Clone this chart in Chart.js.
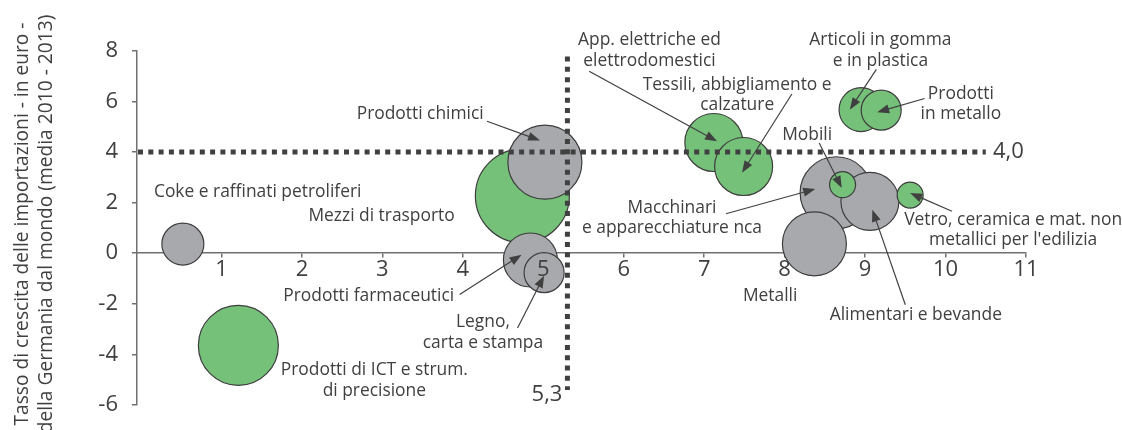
<!DOCTYPE html>
<html>
<head>
<meta charset="utf-8">
<script src="https://cdn.jsdelivr.net/npm/chart.js@4.4.0/dist/chart.umd.min.js"></script>
<style>
  html, body { margin: 0; padding: 0; background: #fff; overflow: hidden; }
  canvas { display: block; }
</style>
</head>
<body>
<canvas id="grafico" width="1122" height="430"></canvas>
<script>
const categorie = [
  'Coke e raffinati petroliferi', 'Prodotti di ICT e strum. di precisione', 'Mezzi di trasporto',
  'Prodotti chimici', 'Prodotti farmaceutici', 'Legno, carta e stampa',
  'App. elettriche ed elettrodomestici', 'Tessili, abbigliamento e calzature',
  'Articoli in gomma e in plastica', 'Prodotti in metallo', 'Macchinari e apparecchiature nca',
  'Alimentari e bevande', 'Metalli', 'Mobili', "Vetro, ceramica e mat. non metallici per l'edilizia"
];
const valoriX = [0.52, 1.21, 4.74, 5.02, 4.84, 5.01, 7.12, 7.49, 8.95, 9.2, 8.64, 9.06, 8.37, 8.72, 9.56];
const valoriY = [0.36, -3.65, 2.27, 3.6, -0.27, -0.77, 4.38, 3.43, 5.68, 5.66, 2.39, 2.05, 0.37, 2.71, 2.3];
const dimensione = [21, 40, 47, 37, 27, 20, 29, 29, 22, 20, 36, 29, 32, 13, 13];
const gruppo = ['B', 'A', 'A', 'B', 'B', 'B', 'A', 'A', 'A', 'A', 'B', 'B', 'B', 'A', 'A'];

const mediaX = 5.3;
const mediaY = 4.0;
const tickX = [1, 2, 3, 4, 5, 6, 7, 8, 9, 10, 11];
const tickY = [-6, -4, -2, 0, 2, 4, 6, 8];

const titoloY = ['Tasso di crescita delle importazioni - in euro -', 'della Germania dal mondo (media 2010 - 2013)'];

// etichette dei settori (coordinate nei valori degli assi)
const note = [
  { testo: ['Coke e raffinati petroliferi'], x: 1.45, y: 2.4 },
  { testo: ['Mezzi di trasporto'], x: 2.99, y: 1.46 },
  { testo: ['Prodotti chimici'], x: 3.47, y: 5.49 },
  { testo: ['Prodotti farmaceutici'], x: 2.83, y: -1.68 },
  { testo: ['Legno,', 'carta e stampa'], x: 4.25, y: -2.74 },
  { testo: ['Prodotti di ICT e strum.', 'di precisione'], x: 2.9, y: -4.64 },
  { testo: ['App. elettriche ed', 'elettrodomestici'], x: 6.32, y: 8.42 },
  { testo: ['Tessili, abbigliamento e', 'calzature'], x: 7.41, y: 6.67 },
  { testo: ['Articoli in gomma', 'e in plastica'], x: 9.19, y: 8.42 },
  { testo: ['Prodotti', 'in metallo'], x: 10.19, y: 6.3 },
  { testo: ['Mobili'], x: 8.28, y: 4.69 },
  { testo: ['Macchinari', 'e apparecchiature nca'], x: 6.6, y: 1.79 },
  { testo: ['Vetro, ceramica e mat. non', "metallici per l'edilizia"], x: 10.84, y: 1.33 },
  { testo: ['Metalli'], x: 7.82, y: -1.68 },
  { testo: ['Alimentari e bevande'], x: 9.63, y: -2.44 }
];

// frecce: [x1, y1, x2, y2]
const frecce = [
  [4.30, 5.22, 4.96, 4.46],
  [3.96, -1.64, 4.73, -0.06],
  [4.68, -2.96, 5.01, -0.89],
  [5.57, 7.2, 7.16, 4.43],
  [8.09, 6.3, 7.47, 3.18],
  [9.14, 7.27, 8.81, 5.68],
  [9.74, 6.12, 9.15, 5.58],
  [8.43, 4.36, 8.71, 2.58],
  [7.27, 1.56, 8.38, 2.54],
  [10.08, 1.66, 9.56, 2.38],
  [9.5, -2.04, 9.09, 1.72]
];

const font = "'Open Sans', sans-serif";
const testo = '#404040';
const assi = '#707070';
const verde = '#76c17a';
const grigio = '#a7a9ac';

function freccia(ctx, x1, y1, x2, y2) {
  const a = Math.atan2(y2 - y1, x2 - x1);
  const len = 12, w = 4.5;
  ctx.beginPath();
  ctx.moveTo(x1, y1);
  ctx.lineTo(x2 - Math.cos(a) * len * 0.7, y2 - Math.sin(a) * len * 0.7);
  ctx.stroke();
  ctx.beginPath();
  ctx.moveTo(x2, y2);
  ctx.lineTo(x2 - len * Math.cos(a) + w * Math.sin(a), y2 - len * Math.sin(a) - w * Math.cos(a));
  ctx.lineTo(x2 - len * Math.cos(a) - w * Math.sin(a), y2 - len * Math.sin(a) + w * Math.cos(a));
  ctx.closePath();
  ctx.fill();
}

const etichette = {
  id: 'etichette',
  afterDatasetsDraw(chart) {
    const { ctx } = chart;
    const x = chart.scales.x, y = chart.scales.y;
    ctx.save();

    // linee tratteggiate delle medie
    ctx.strokeStyle = '#404040';
    ctx.lineWidth = 5;
    ctx.setLineDash([5, 5.3]);
    const py = y.getPixelForValue(mediaY);
    ctx.beginPath();
    ctx.moveTo(x.left + 1, py);
    ctx.lineTo(x.getPixelForValue(10.5), py);
    ctx.stroke();
    const px = x.getPixelForValue(mediaX);
    ctx.beginPath();
    ctx.moveTo(px, y.getPixelForValue(7.78));
    ctx.lineTo(px, y.getPixelForValue(-5.41));
    ctx.stroke();
    ctx.setLineDash([]);

    ctx.fillStyle = testo;
    ctx.font = '22px ' + font;
    ctx.textBaseline = 'middle';
    ctx.textAlign = 'left';
    ctx.fillText(mediaY.toFixed(1).replace('.', ','), x.getPixelForValue(10.59), py);
    ctx.textAlign = 'right';
    ctx.fillText(mediaX.toFixed(1).replace('.', ','), px - 5, y.getPixelForValue(-5.6));

    // etichette
    ctx.font = '17.4px ' + font;
    ctx.textAlign = 'center';
    note.forEach(n => {
      const cx = x.getPixelForValue(n.x), cy = y.getPixelForValue(n.y);
      n.testo.forEach((riga, i) => ctx.fillText(riga, cx, cy + i * 20.5));
    });

    // frecce
    ctx.strokeStyle = '#404040';
    ctx.fillStyle = '#404040';
    ctx.lineWidth = 1.2;
    frecce.forEach(f => {
      freccia(ctx, x.getPixelForValue(f[0]), y.getPixelForValue(f[1]),
        x.getPixelForValue(f[2]), y.getPixelForValue(f[3]));
    });
    ctx.restore();
  },
  afterDraw(chart) {
    const { ctx } = chart;
    ctx.save();
    ctx.fillStyle = testo;
    ctx.font = '19.2px ' + font;
    ctx.textAlign = 'center';
    ctx.textBaseline = 'middle';
    ctx.translate(23, 224);
    ctx.rotate(-Math.PI / 2);
    titoloY.forEach((riga, i) => ctx.fillText(riga, 0, i * 24));
    ctx.restore();
  }
};

const tela = document.getElementById('grafico');

function crea() {
  return new Chart(tela, {
    type: 'bubble',
    data: {
      datasets: [{
        data: categorie.map((c, i) => ({ x: valoriX[i], y: valoriY[i], r: dimensione[i] })),
        backgroundColor: gruppo.map(g => g === 'A' ? verde : grigio),
        borderColor: '#3d3d3d',
        borderWidth: 1.2
      }]
    },
    options: {
      responsive: false,
      animation: false,
      events: [],
      layout: { padding: { left: 0, right: 96, top: 51, bottom: 25 } },
      plugins: { legend: { display: false }, tooltip: { enabled: false } },
      scales: {
        x: {
          type: 'linear',
          position: { y: 0 },
          min: -0.05,
          max: 11,
          afterBuildTicks: s => { s.ticks = tickX.map(v => ({ value: v })); },
          grid: { drawOnChartArea: false, tickLength: 4, color: assi, lineWidth: 1.5 },
          border: { color: assi, width: 1.5 },
          ticks: { z: 1, padding: -1, color: testo, maxRotation: 0, autoSkip: false, font: { family: font, size: 22 } }
        },
        y: {
          type: 'linear',
          min: -6,
          max: 8,
          afterBuildTicks: s => { s.ticks = tickY.map(v => ({ value: v })); },
          afterFit: s => { s.width = 137; },
          grid: { drawOnChartArea: false, tickLength: 5, color: assi, lineWidth: 1.5 },
          border: { color: assi, width: 1.5 },
          ticks: { padding: 14, color: testo, font: { family: font, size: 22 } }
        }
      }
    },
    plugins: [etichette]
  });
}

// l'asse x centrale occupa comunque spazio in basso:
// si allunga la tela (tagliata a 430 dalla pagina) finché l'area del grafico finisce a 405
let grafico = crea();
const extra = 405 - grafico.chartArea.bottom;
if (Math.abs(extra) > 0.5) {
  grafico.destroy();
  tela.width = 1122;
  tela.height = Math.round(430 + extra);
  tela.style.width = '1122px';
  tela.style.height = Math.round(430 + extra) + 'px';
  grafico = crea();
}
</script>
</body>
</html>
